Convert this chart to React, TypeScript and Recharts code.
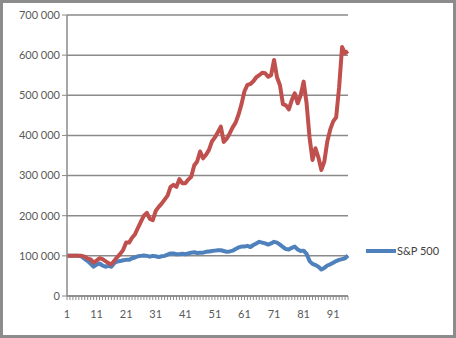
import { LineChart, Line, XAxis, YAxis, CartesianGrid, Legend } from 'recharts';

// category labels 1..96 (periods)
const periods = [
  1, 2, 3, 4, 5, 6, 7, 8, 9, 10, 11, 12, 13, 14, 15, 16, 17, 18, 19, 20,
  21, 22, 23, 24, 25, 26, 27, 28, 29, 30, 31, 32, 33, 34, 35, 36, 37, 38, 39, 40,
  41, 42, 43, 44, 45, 46, 47, 48, 49, 50, 51, 52, 53, 54, 55, 56, 57, 58, 59, 60,
  61, 62, 63, 64, 65, 66, 67, 68, 69, 70, 71, 72, 73, 74, 75, 76, 77, 78, 79, 80,
  81, 82, 83, 84, 85, 86, 87, 88, 89, 90, 91, 92, 93, 94, 95, 96,
];

// unnamed strategy series (thousands)
const strategy = [
  100, 100, 100, 100, 100, 100, 98, 93, 91, 83, 88, 94, 92, 87, 82, 79, 88, 97, 105, 115,
  133, 133, 145, 154, 170, 185, 200, 207, 192, 189, 212, 222, 230, 240, 250, 272, 277, 272, 291, 281,
  281, 290, 297, 325, 335, 360, 343, 352, 364, 385, 395, 408, 422, 384, 392, 405, 420, 432, 452, 478,
  510, 526, 528, 535, 545, 550, 556, 555, 546, 550, 588, 545, 525, 478, 475, 465, 488, 505, 480, 500,
  534, 480, 395, 339, 368, 345, 314, 335, 385, 415, 435, 445, 520, 620, 605, 610,
];

// S&P 500 (thousands)
const sp500 = [
  100, 100, 100, 100, 100, 98, 92, 87, 80, 73, 78, 81, 76, 73, 75, 73, 82, 86, 87, 89,
  90, 90, 94, 96, 99, 100, 101, 100, 98, 100, 99, 97, 99, 100, 103, 106, 106, 104, 104, 105,
  104, 106, 108, 109, 107, 108, 108, 110, 111, 112, 113, 114, 114, 112, 110, 111, 113, 117, 121, 123,
  123, 125, 122, 127, 131, 135, 133, 131, 128, 131, 135, 133, 128, 122, 117, 116, 120, 123, 116, 112,
  113, 105, 87, 80, 77, 73, 66, 70, 76, 79, 83, 87, 90, 92, 94, 101,
];

const yTicks = [0, 100000, 200000, 300000, 400000, 500000, 600000, 700000];

const data = periods.map((p, i) => ({
  p,
  strategy: strategy[i] * 1000,
  sp500: sp500[i] * 1000,
}));

const fmt = (v: number) => (v === 0 ? '0' : `${v / 1000} 000`);

const XTick = (props: any) => {
  const { x, y, payload } = props;
  if ((payload.value - 1) % 10 !== 0) return null;
  return (
    <text x={x} y={y + 16} textAnchor="middle" fill="#595959" fontSize={11} fontFamily="Lato">
      {payload.value}
    </text>
  );
};

const LegendBox = () => (
  <div style={{ display: 'flex', alignItems: 'center', fontFamily: 'Lato', fontSize: 11, color: '#404040' }}>
    <svg width={30} height={8}>
      <line x1={0} y1={4} x2={30} y2={4} stroke="#4F81BD" strokeWidth={4} />
    </svg>
    <span style={{ marginLeft: 1 }}>S&amp;P 500</span>
  </div>
);

export default function App() {
  return (
    <div style={{ position: 'absolute', left: 0, top: 0, width: 456, height: 338, background: '#fff' }}>
      <LineChart width={456} height={338} data={data} margin={{ top: 15, right: 108, bottom: 22, left: 7 }}>
        <CartesianGrid vertical={false} stroke="#8a8a8a" strokeWidth={1.5} />
        <XAxis
          dataKey="p"
          interval={0}
          tick={<XTick />}
          tickLine={{ stroke: '#8a8a8a' }}
          tickSize={4}
          axisLine={{ stroke: '#8a8a8a', strokeWidth: 1.5 }}
          height={20}
        />
        <YAxis
          ticks={yTicks}
          domain={[0, 700000]}
          tickFormatter={fmt}
          width={60}
          tickSize={5}
          tickLine={{ stroke: '#8a8a8a' }}
          axisLine={{ stroke: '#8a8a8a', strokeWidth: 1.5 }}
          tick={{ fill: '#595959', fontSize: 11, fontFamily: 'Lato' }}
        />
        <Legend
          layout="horizontal"
          verticalAlign="middle"
          align="center"
          content={<LegendBox />}
          wrapperStyle={{ position: 'absolute', left: 366, top: 244, width: 90 }}
        />
        <Line
          type="linear"
          dataKey="sp500"
          stroke="#4F81BD"
          strokeWidth={4}
          dot={false}
          isAnimationActive={false}
          strokeLinejoin="round"
        />
        <Line
          type="linear"
          dataKey="strategy"
          stroke="#C0504D"
          strokeWidth={4}
          dot={false}
          legendType="none"
          isAnimationActive={false}
          strokeLinejoin="round"
        />
      </LineChart>
      <div
        style={{
          position: 'absolute',
          left: 0,
          top: 0,
          width: 456,
          height: 338,
          boxSizing: 'border-box',
          border: '3px solid #8c8c8c',
          pointerEvents: 'none',
        }}
      />
    </div>
  );
}
